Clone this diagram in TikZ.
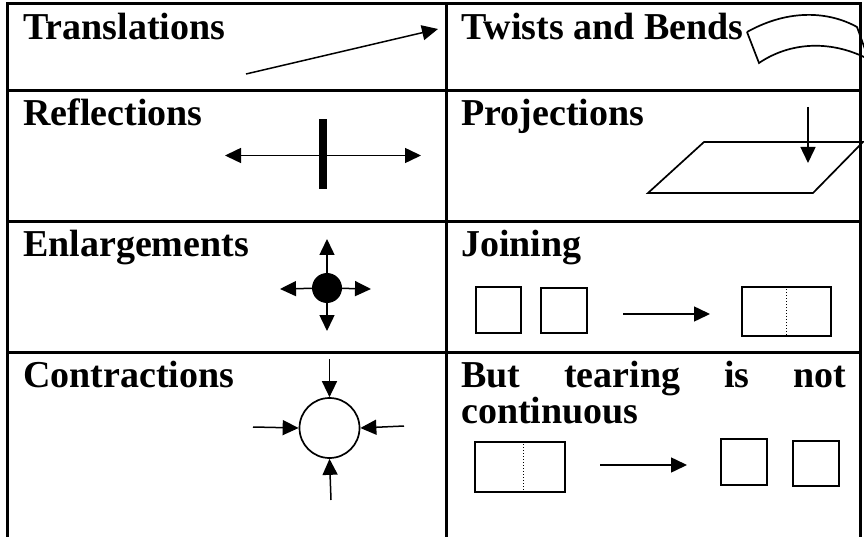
\documentclass[tikz,border=0pt]{standalone}
\usepackage{fontspec}
\setmainfont{Liberation Serif}
\usetikzlibrary{arrows.meta}
\begin{document}
\begin{tikzpicture}[x=1pt,y=-1pt,
  grid/.style={line width=3pt},
  lbl/.style={anchor=base west,inner sep=0pt,font=\fontsize{38}{36}\selectfont\bfseries},
  arr/.style={line width=1.5pt,-{Triangle[length=16pt,width=15pt]}},
  darr/.style={line width=1.5pt,{Triangle[length=16pt,width=15pt]}-{Triangle[length=16pt,width=15pt]}},
  shp/.style={line width=1.7pt},
  sq/.style={draw,line width=1.8pt,inner sep=0pt},
  dots/.style={line width=1pt,dotted},
]
\fill[white] (0,0) rectangle (864,537);
\useasboundingbox (0,0) rectangle (864,537);
% table
\draw[grid] (7,4) -- (860,4);
\draw[grid] (7,90.5) -- (860,90.5);
\draw[grid] (7,222) -- (860,222);
\draw[grid] (7,352) -- (860,352);
\draw[grid] (7,2.5) -- (7,540);
\draw[grid] (446,2.5) -- (446,540);
\draw[grid] (860,2.5) -- (860,540);
% labels
\node[lbl] (tr) at (23,40) {Translations};
\node[lbl] (tw) at (461,40) {Twists and Bends};
\node[lbl] (re) at (23,126) {Reflections};
\node[lbl] (pr) at (461,126) {Projections};
\node[lbl] (en) at (23,257) {Enlargements};
\node[lbl] (jo) at (461,257) {Joining};
\node[lbl] (co) at (23,387) {Contractions};
\node[lbl,text width=385pt,align=justify] (te) at (461,387) {But tearing is not \mbox{continuous}};
% translation
\coordinate (ta) at (246,74);
\coordinate (tb) at (438,29);
\draw[arr] (ta) -- (tb);
% twist ribbon
\draw[shp] (747,32) .. controls (790,8) and (830,12) .. (857,27) -- (866,52);
\draw[shp] (747,32) -- (759,63) .. controls (790,42) and (830,40) .. (866,58);
% reflection
\coordinate (rl) at (225,155.5);
\coordinate (rr) at (421,155.5);
\draw[darr] (rl) -- (rr);
\node[fill=black,minimum width=8pt,minimum height=70pt,inner sep=0pt] (bar) at (322.5,154) {};
% projection
\coordinate (p1) at (704,142);
\coordinate (p2) at (863,142);
\coordinate (p3) at (813,193);
\coordinate (p4) at (648,193);
\draw[shp] (p1) -- (p2) -- (p3) -- (p4) -- cycle;
\coordinate (pa) at (808,107);
\coordinate (pb) at (808,163);
\draw[arr] (pa) -- (pb);
% enlargement
\node[circle,fill=black,minimum size=30pt,inner sep=0pt] (dot) at (327,288) {};
\coordinate (eu) at (327,239);
\coordinate (ed) at (327,331);
\coordinate (el) at (280,289);
\coordinate (er) at (371,289);
\draw[arr] (dot) -- (eu);
\draw[arr] (dot) -- (ed);
\draw[arr] (dot) -- (el);
\draw[arr] (dot) -- (er);
% joining
\node[sq,minimum width=45pt,minimum height=46pt] (j1) at (498.5,310) {};
\node[sq,minimum width=46pt,minimum height=45pt] (j2) at (564,310.5) {};
\node[sq,minimum width=89pt,minimum height=49pt] (j3) at (786.5,311.5) {};
\draw[dots] (j3.north) -- (j3.south);
\coordinate (ja) at (623,314);
\coordinate (jb) at (710,314);
\draw[arr] (ja) -- (jb);
% contraction
\node[circle,draw,line width=1.7pt,minimum size=60pt,inner sep=0pt] (ring) at (329.5,428) {};
\coordinate (cu) at (329.5,359);
\coordinate (cd) at (331,500);
\coordinate (cl) at (253,427);
\coordinate (cr) at (404,426);
\draw[arr] (cu) -- (ring.north);
\draw[arr] (cd) -- (ring.south);
\draw[arr] (cl) -- (ring.west);
\draw[arr] (cr) -- (ring.east);
% tearing
\node[sq,minimum width=90pt,minimum height=50pt] (t1) at (520,467) {};
\draw[dots] ([xshift=3pt]t1.north) -- ([xshift=3pt]t1.south);
\node[sq,minimum width=46pt,minimum height=46pt] (t2) at (744,462) {};
\node[sq,minimum width=46pt,minimum height=45pt] (t3) at (816,463.5) {};
\coordinate (tta) at (600,465);
\coordinate (ttb) at (687,465);
\draw[arr] (tta) -- (ttb);
\end{tikzpicture}
\end{document}
